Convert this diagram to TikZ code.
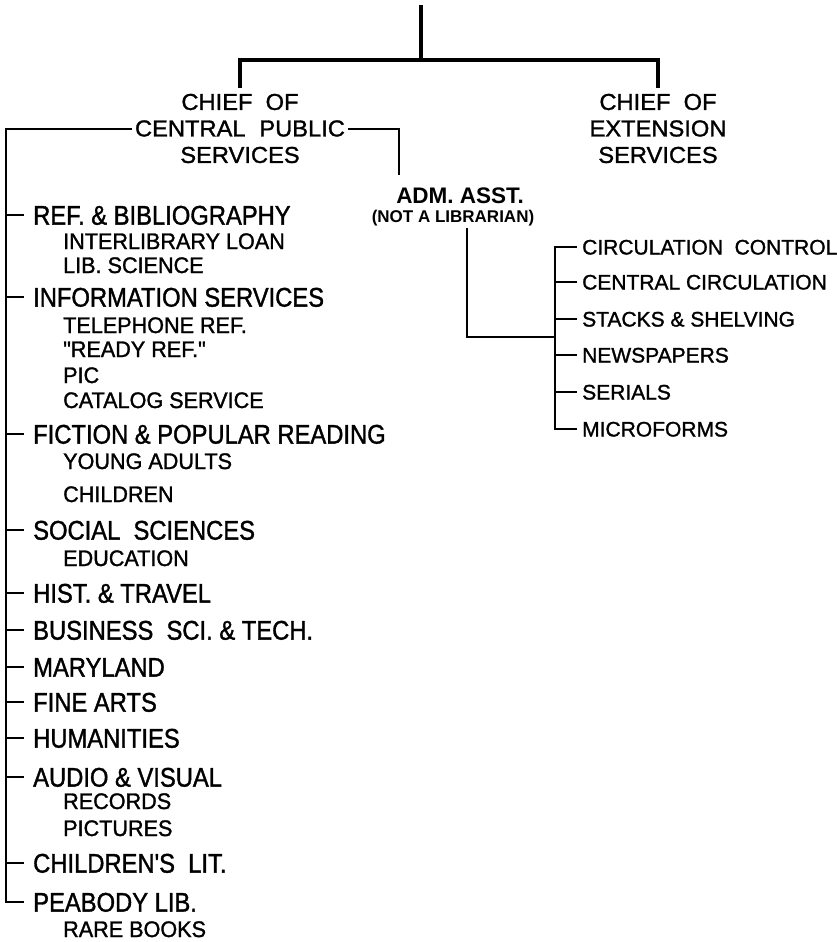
\documentclass[tikz,border=0pt]{standalone}
\usepackage{fontspec}
\setmainfont{Liberation Sans}
\newfontfamily\deptfont[FakeStretch=0.88,FakeBold=1.3]{Liberation Sans}
\newfontfamily\unitfont[FakeStretch=0.96,FakeBold=1.3]{Liberation Sans}
\newfontfamily\deskfont[FakeBold=1.3]{Liberation Sans}
\newfontfamily\chieffont[FakeStretch=1.03,FakeBold=1.3]{Liberation Sans}
\usepackage{tikz}
\usetikzlibrary{positioning}

\begin{document}
\begin{tikzpicture}[x=1pt,y=-1pt,
    chief/.style={align=center,inner xsep=3pt,inner ysep=6pt,font=\chieffont\fontsize{23}{26.5}\selectfont},
    dept/.style={anchor=west,inner sep=0pt,text height=19.3pt,text depth=0pt,font=\deptfont\fontsize{27}{30}\selectfont},
    unit/.style={anchor=west,inner sep=0pt,text height=16pt,text depth=0pt,font=\unitfont\fontsize{22.5}{25}\selectfont},
    desk/.style={anchor=west,inner sep=0pt,text height=15pt,text depth=0pt,font=\deskfont\fontsize{21}{24}\selectfont},
    bar/.style={line width=4pt},
    link/.style={line width=2pt}]
    \useasboundingbox (0,0) rectangle (836,942);
    \coordinate (root) at (421,5);
    \coordinate (fork) at (421,60);
    \node[chief] (cps) at (240,128.5) {CHIEF\ \ OF\\CENTRAL\hspace{0.6em}PUBLIC\\SERVICES};
    \node[chief] (ext) at (658,128.5) {CHIEF\ \ OF\\EXTENSION\\SERVICES};
    \draw[bar] (root) -- (fork);
    \draw[bar] (cps.north) |- (fork) -| (ext.north);
    %\node[chief] (top) at (421,0) {};

    \node[inner sep=0pt,text height=16pt,text depth=0pt,font=\bfseries\fontsize{22.5}{24}\selectfont] (adm) at (460,195) {ADM. ASST.};
    \node[inner sep=0pt,text height=12.5pt,text depth=0pt,font=\bfseries\fontsize{17}{19}\selectfont] (note) at (453,216.5) {(NOT A LIBRARIAN)};
    \draw[link] (cps.east) -| ([shift={(3pt,12pt)}]adm.north west);

    \node[dept] (ref)  at (33,215) {REF. \& BIBLIOGRAPHY};
    \node[unit] (ill)  at (63,241) {INTERLIBRARY LOAN};
    \node[unit] (lib)  at (63,265) {LIB. SCIENCE};
    \node[dept] (info) at (33,297) {INFORMATION SERVICES};
    \node[unit] (tel)  at (63,325) {TELEPHONE REF.};
    \node[unit] (rdy)  at (63,349) {"READY REF."};
    \node[unit] (pic)  at (63,375) {PIC};
    \node[unit] (cat)  at (63,400) {CATALOG SERVICE};
    \node[dept] (fic)  at (33,434) {FICTION \& POPULAR READING};
    \node[unit] (ya)   at (63,461) {YOUNG ADULTS};
    \node[unit] (chl)  at (63,494) {CHILDREN};
    \node[dept] (soc)  at (33,530) {SOCIAL\ \ SCIENCES};
    \node[unit] (edu)  at (63,558) {EDUCATION};
    \node[dept] (hist) at (33,593) {HIST. \& TRAVEL};
    \node[dept] (bus)  at (33,630) {BUSINESS\ \ SCI. \& TECH.};
    \node[dept] (md)   at (33,667) {MARYLAND};
    \node[dept] (fine) at (33,702) {FINE ARTS};
    \node[dept] (hum)  at (33,738) {HUMANITIES};
    \node[dept] (av)   at (33,777) {AUDIO \& VISUAL};
    \node[unit] (rec)  at (63,801) {RECORDS};
    \node[unit] (pics) at (63,828) {PICTURES};
    \node[dept] (cl)   at (33,863) {CHILDREN'S\ \ LIT.};
    \node[dept] (pea)  at (33,902) {PEABODY LIB.};
    \node[unit] (rare) at (63,929) {RARE BOOKS};

    \draw[link] (cps.west) -| ([xshift=-27pt]pea.west) -- ([xshift=-9pt]pea.west);
    \foreach \n in {ref,info,fic,soc,hist,bus,md,fine,hum,av,cl}
        \draw[link] ([xshift=-27pt]\n.west) -- ([xshift=-9pt]\n.west);

    \node[desk] (cc) at (582,247) {CIRCULATION\ \ CONTROL};
    \node[desk] (ci) at (582,282) {CENTRAL CIRCULATION};
    \node[desk] (st) at (582,319) {STACKS \& SHELVING};
    \node[desk] (np) at (582,355) {NEWSPAPERS};
    \node[desk] (se) at (582,392) {SERIALS};
    \node[desk] (mf) at (582,429) {MICROFORMS};
    \coordinate (join) at (555,337);
    \draw[link] ([xshift=-5pt]cc.west) -| (join) |- ([xshift=-5pt]mf.west);
    \foreach \n in {ci,st,np,se}
        \draw[link] ([xshift=-5pt]\n.west) -- ++(-22pt,0);
    \draw[link] ([xshift=14pt,yshift=-5pt]note.south) |- (join);
\end{tikzpicture}
\end{document}
